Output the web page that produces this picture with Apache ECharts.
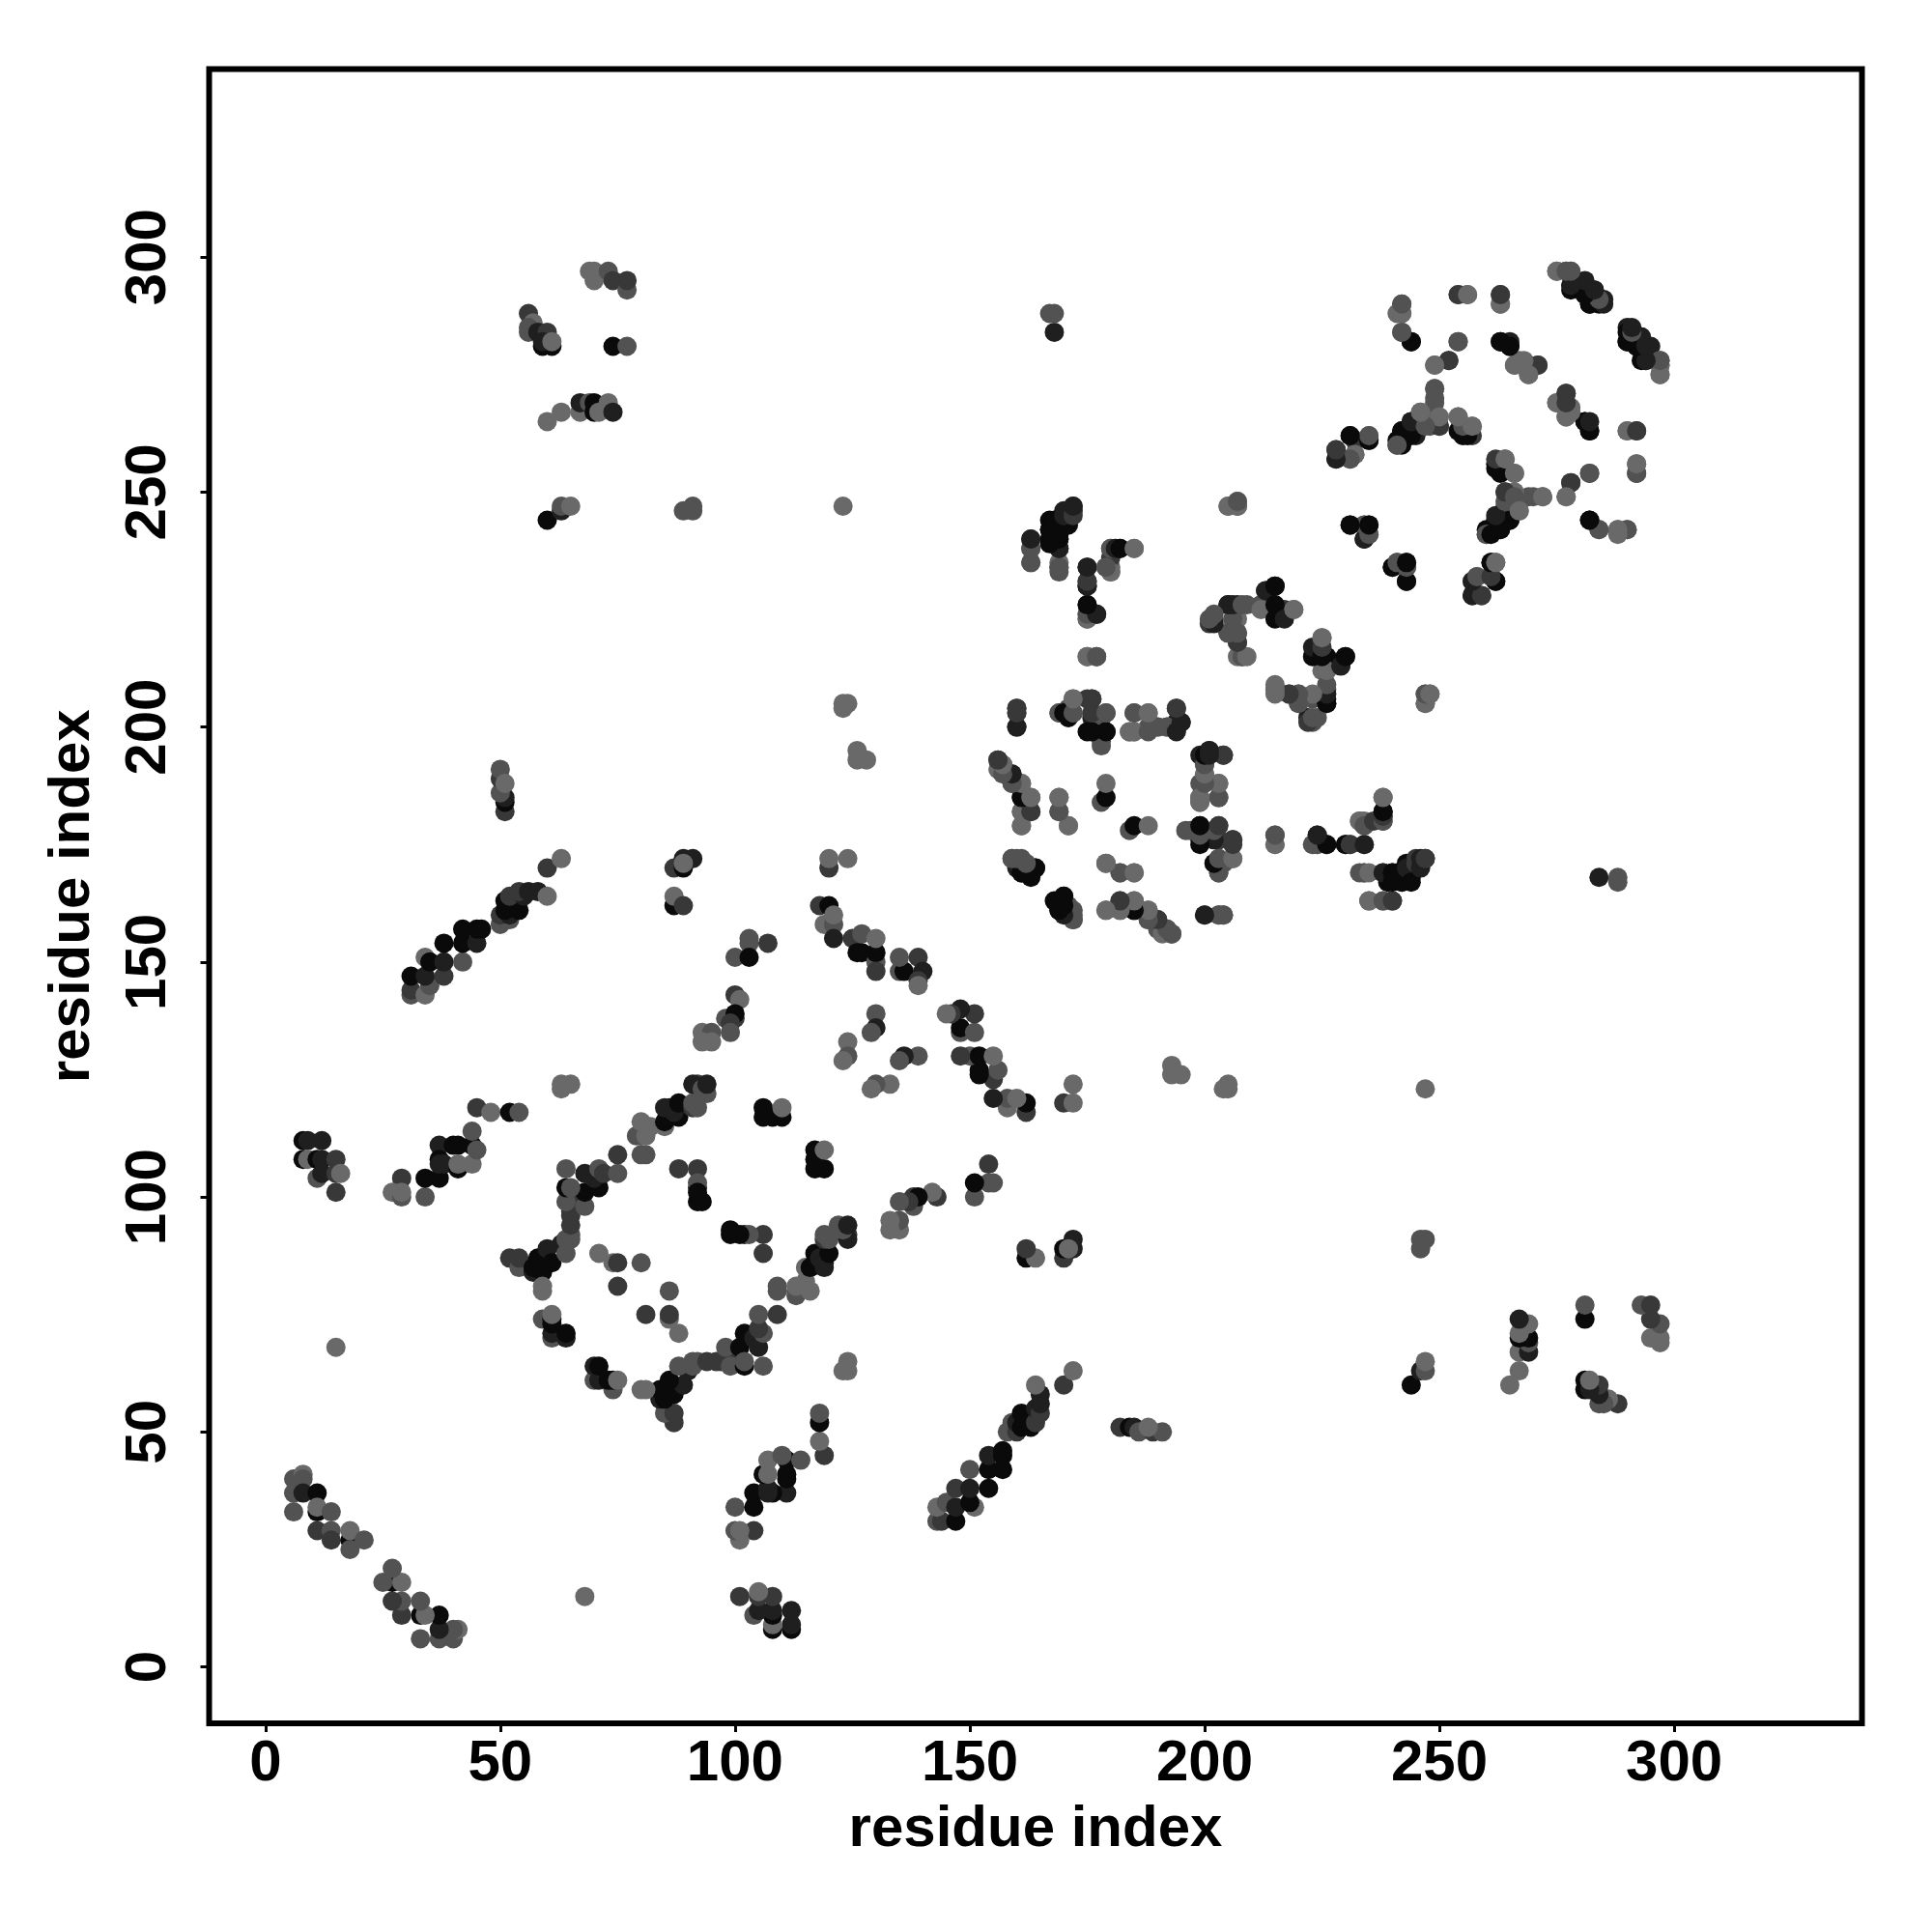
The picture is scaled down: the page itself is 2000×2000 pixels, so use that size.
<!DOCTYPE html>
<html><head><meta charset="utf-8">
<style>html,body{margin:0;padding:0;background:#fff}#c{width:2000px;height:2000px}</style>
<script src="https://cdn.jsdelivr.net/npm/echarts@6/dist/echarts.min.js"></script>
</head><body><div id="c"></div>
<script>
// Contacts between residues: [residue i, residue j, shade index]
const shades = ['#0a0a0a','#1f1f1f','#383838','#525252','#696969'];
const tickValues = [0,50,100,150,200,250,300];
const axisTitle = 'residue index';
const antidiagonal = [[6,40,3],[8,41,4],[8,40,3],[6,37,3],[8,37,1],[11,37,0],[6,33,3],[11,33,0],[11,34,4],[14,33,3],[11,29,2],[14,29,3],[14,27,2],[18,27,0],[18,29,4],[18,25,3],[21,27,3]];
const isolated = [[15,68,4],[123,247,4],[124,205,4],[123,204,4],[123,205,4],[126,193,4],[128,193,4],[126,195,4],[168,284,1],[167,288,3],[168,288,3]];
const block8 = [[8,112,0],[9,112,1],[12,112,1],[8,108,0],[9,108,4],[11,108,0],[12,108,1],[15,108,2],[11,104,3],[12,105,1],[15,105,2],[16,105,4],[15,101,2]];
const block30 = [[29,104,2],[27,101,4],[29,100,3],[29,101,4],[34,100,3],[34,104,0],[37,104,0],[37,111,1],[40,111,0],[41,111,0],[37,108,0],[37,107,1],[38,107,1],[41,106,0],[41,107,4],[44,107,4],[44,111,0],[45,110,3],[44,114,3],[45,119,2],[48,118,4],[52,118,0],[54,118,3]];
const helix = [[31,143,3],[31,144,2],[31,147,0],[34,143,4],[35,145,3],[34,147,1],[38,147,2],[34,151,4],[35,150,0],[38,150,1],[42,150,3],[38,154,0],[42,154,0],[45,154,1],[42,157,0],[45,157,0],[46,157,0],[50,158,3],[52,159,3],[50,160,2],[52,160,1],[51,161,0],[54,161,0],[51,163,0],[52,164,2],[55,164,1],[54,165,2],[56,165,1],[58,165,1],[60,164,4],[60,170,2],[63,172,4]];
const column50 = [[51,182,2],[51,184,0],[51,185,1],[50,186,3],[50,189,2],[50,191,3],[51,188,4]];
const column87 = [[87,170,2],[89,170,0],[89,172,1],[91,172,1],[89,171,4],[87,162,0],[87,164,4],[89,162,2]];
const column100 = [[103,155,3],[103,154,3],[107,154,2],[100,151,3],[103,151,0],[100,143,2],[101,142,4],[98,138,3],[100,138,2],[100,139,0],[99,137,2],[99,135,3],[93,135,4],[95,135,3],[93,133,4],[95,133,4]];
const column63 = [[63,123,4],[63,124,4],[65,124,4]];
const diamondCorner = [[52,87,2],[54,85,3],[54,87,2],[57,84,1],[57,85,0],[59,84,0],[58,87,0],[60,89,1],[61,86,0],[63,90,1],[64,88,3],[64,91,3],[65,91,3],[65,92,3],[65,94,2],[65,96,2],[65,97,2],[65,99,2],[59,80,4],[59,81,4]];
const diamondEdge = [[64,99,3],[68,98,3],[68,101,0],[64,102,0],[65,102,3],[71,102,0],[64,106,3],[70,104,1],[68,105,1],[71,106,3],[72,105,2],[75,105,3],[75,109,2],[80,109,3],[81,109,3],[79,113,3],[80,113,3],[81,113,4],[82,115,4],[80,116,4],[85,115,4],[85,116,0],[86,117,0],[88,117,0],[87,118,1],[85,119,1],[86,119,1],[88,120,0],[91,119,2],[91,120,3],[92,119,3],[94,122,3],[92,124,2],[91,124,1],[93,123,3],[94,124,1]];
const innerLow = [[61,70,3],[61,71,1],[64,70,1],[64,71,0],[59,74,3],[61,74,0],[61,73,0],[61,75,4]];
const innerHigh = [[71,88,4],[74,86,4],[75,86,2],[75,81,2],[80,86,3],[88,106,2],[92,106,2],[92,102,1],[92,103,3],[92,99,0],[93,99,0],[92,101,0]];
const corner106 = [[106,117,0],[108,117,0],[110,117,0],[106,119,0],[110,119,4]];
const block120 = [[120,170,2],[120,172,4],[124,172,4],[118,162,2],[120,162,0],[119,158,4],[121,158,3],[121,160,4],[121,155,1],[125,155,2],[127,156,3],[126,152,0],[127,152,0],[130,150,3],[130,152,0],[130,155,4],[130,148,2],[135,148,3],[136,148,0],[135,151,3],[139,151,2],[140,148,1],[139,146,2],[139,145,4],[130,139,3],[130,136,1],[129,135,3],[124,133,4],[124,130,3],[123,129,4]];
const block160 = [[159,172,3],[161,172,3],[160,170,1],[161,169,0],[163,168,0],[162,170,0],[164,170,0]];
const block170 = [[169,161,0],[169,162,0],[170,164,0],[171,162,3],[172,160,3],[172,159,3]];
const row180 = [[179,171,4],[182,169,3],[185,169,4],[179,161,4],[182,161,4],[182,163,2],[185,161,0],[185,163,4],[188,161,4],[188,159,3],[190,159,1],[190,157,3],[192,157,4],[193,156,2],[200,160,1],[203,160,2],[204,160,2]];
const block200 = [[160,204,3],[160,203,3],[160,200,1],[169,203,3],[171,204,3],[171,202,0],[172,203,3],[172,206,4],[175,206,2],[176,206,2],[176,202,1],[175,199,0],[177,199,3],[178,197,3],[178,202,3],[179,199,0],[179,203,2],[185,203,3],[188,203,4],[184,199,4],[185,199,4],[188,200,3],[190,200,4],[192,200,3],[194,204,2],[194,200,0],[194,201,1],[195,201,1]];
const column200 = [[199,184,4],[199,185,4],[199,188,3],[200,190,3],[200,192,3],[203,185,3],[203,188,4],[199,194,1],[201,195,1],[204,194,2]];
const diagonal160 = [[156,191,4],[156,193,3],[157,192,3],[159,190,2],[159,188,3],[161,188,4],[161,185,0],[163,185,4],[161,182,4],[163,182,2],[161,179,4],[169,182,3],[169,185,4],[171,179,4],[178,184,3],[179,185,0],[179,188,4]];
const block196 = [[196,178,3],[199,176,0],[199,179,0],[203,176,2],[206,176,2],[203,179,3],[203,169,3],[203,170,0],[203,172,3],[206,172,4]];
const row215 = [[215,175,4],[215,177,3],[223,175,4],[224,175,3],[224,177,1],[226,175,0],[230,175,1],[231,175,2],[234,175,1],[238,180,3],[238,181,1],[238,182,0],[238,185,4],[233,180,4],[234,179,3]];
const row240 = [[233,169,3],[234,169,3],[238,169,1],[240,169,0],[241,169,0],[239,167,0],[242,167,0],[244,168,0],[243,168,0],[243,171,0],[245,170,1],[245,172,2],[247,172,1],[235,163,3],[238,163,3],[240,163,1]];
const column170 = [[163,235,4],[163,238,3],[163,240,2],[169,234,3],[169,235,4],[169,238,1],[167,240,0],[169,240,0],[167,242,0],[170,243,1],[167,244,0],[171,245,2],[170,246,1],[172,246,1],[172,247,2],[175,230,0],[175,231,2],[175,234,1],[175,223,3],[175,224,3],[176,224,3],[175,226,0],[177,224,1],[175,215,4],[177,215,3],[180,233,4],[180,234,4],[179,234,3],[180,236,2],[180,238,3],[181,238,2],[182,238,0],[185,238,4]];
const block205 = [[205,247,4],[207,247,3],[207,248,4],[201,222,2],[202,223,3],[205,226,0],[207,226,1],[209,226,3],[212,226,4],[213,229,1],[215,230,0],[215,225,0],[217,225,2],[219,225,4],[207,223,4],[205,220,3],[207,220,3],[207,218,2],[207,215,4],[208,215,4]];
const block215 = [[226,212,3],[225,212,4],[229,213,1],[230,215,0],[223,215,0],[226,215,0],[223,217,1],[225,219,4],[215,208,3],[215,209,4],[218,207,2],[220,205,3],[220,207,3],[223,206,3],[226,205,1],[226,206,1],[226,208,3],[222,202,1],[223,201,3],[224,202,3]];
const block230 = [[231,243,0],[234,240,0],[235,241,3],[234,243,3],[235,243,0],[240,234,1],[241,235,3],[243,234,3],[243,235,0],[243,231,0],[247,205,4],[247,207,4],[248,207,3]];
const antidiagonalTop = [[275,297,4],[277,297,4],[278,297,3],[278,293,0],[278,294,1],[281,292,0],[281,294,1],[283,293,1],[282,290,0],[284,290,0],[284,291,3],[285,291,1],[290,282,0],[290,285,1],[291,284,3],[292,281,0],[293,283,1],[295,281,1],[294,278,1],[297,275,4],[297,277,3],[297,278,3]];
const top250 = [[254,292,3],[256,292,4],[263,290,4],[263,292,2],[242,290,3],[241,288,4],[242,288,4],[242,284,3],[244,282,0],[254,282,3],[252,278,2],[249,277,4],[263,282,0],[265,281,0],[265,282,1],[266,277,4],[267,278,4],[269,275,4],[269,277,2],[271,277,2],[249,270,3],[249,272,4]];
const center250 = [[241,260,3],[241,261,0],[242,263,0],[244,265,0],[245,262,1],[248,264,3],[250,264,2],[249,266,3],[246,267,4],[254,263,0],[255,262,0],[257,262,2],[254,266,4],[257,264,4]];
const left230 = [[228,257,1],[228,259,2],[231,257,1],[232,258,3],[231,262,0],[232,261,2],[235,261,0],[235,262,4]];
const right280 = [[277,271,2],[275,269,4],[278,268,4],[277,266,4],[281,265,0],[282,263,0],[290,263,4],[292,263,2],[292,254,2],[292,256,4],[282,254,3],[278,252,2],[277,249,4],[282,244,0],[284,242,3],[288,242,4],[290,242,3]];
const center262 = [[262,256,0],[264,255,3],[264,257,4],[266,254,4],[264,250,2],[272,249,3],[269,249,3],[266,250,4],[262,244,0],[263,242,0],[260,242,0],[260,241,3],[265,244,1],[264,247,3],[267,246,4]];
const lower258 = [[261,235,0],[262,235,3],[262,231,0],[258,232,4],[257,231,3],[257,228,1],[259,228,2]];
const top70 = [[69,297,4],[70,297,4],[70,295,4],[73,297,3],[74,295,2],[77,293,3],[77,295,2],[56,288,2],[57,286,4],[56,285,3],[56,284,3],[58,284,1],[60,284,2],[59,281,0],[61,281,0],[59,282,1],[61,282,4],[74,281,0],[77,281,3],[63,267,4],[60,265,4],[67,267,4],[67,269,1],[69,269,3],[70,267,0],[70,269,0],[73,269,4],[71,267,4],[74,267,1],[60,244,0],[63,246,1],[63,247,3],[65,247,4],[89,246,3],[91,246,3],[91,247,3]];

const contacts = [].concat(antidiagonal,isolated,block8,block30,helix,column50,column87,column100,column63,diamondCorner,diamondEdge,innerLow,innerHigh,corner106,block120,block160,block170,row180,block200,column200,diagonal160,block196,row215,row240,column170,block205,block215,block230,antidiagonalTop,top250,center250,left230,right280,center262,lower258,top70);
// A contact between residues i and j is plotted at both (i,j) and (j,i).
const points = contacts.map(c=>[c[0],c[1],c[2]]).concat(contacts.map(c=>[c[1],c[0],c[2]]));

const labelFont = {fontFamily:'"Liberation Sans"',fontWeight:'bold',fontSize:60,color:'#000'};
function axis(extra){return Object.assign({
  type:'value',min:-12,max:340,splitLine:{show:false},
  axisLine:{show:false,onZero:false},
  axisTick:{show:true,length:9,lineStyle:{color:'#000',width:3},customValues:tickValues},
  name:axisTitle,nameLocation:'middle',
  nameTextStyle:Object.assign({},labelFont)
},extra);}
const chart = echarts.init(document.getElementById('c'),null,{renderer:'canvas'});
chart.setOption({
  animation:false,backgroundColor:'#fff',
  grid:{left:216.5,top:71.5,width:1711,height:1712.5,show:true,borderColor:'#000',borderWidth:6,backgroundColor:'transparent',containLabel:false},
  xAxis:axis({nameGap:80,axisLabel:Object.assign({},labelFont,{margin:12,customValues:tickValues})}),
  yAxis:axis({nameGap:111,axisLabel:Object.assign({},labelFont,{margin:32,rotate:90,customValues:tickValues,align:'center',verticalAlign:'bottom'})}),
  series:[{type:'scatter',symbol:'circle',symbolSize:20,data:points,clip:false,
    itemStyle:{color:p=>shades[p.value[2]],opacity:1},
    emphasis:{disabled:true}}]
});
</script></body></html>
